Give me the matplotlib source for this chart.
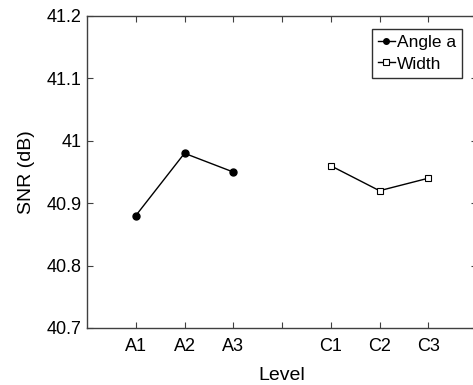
import matplotlib
matplotlib.use("Agg")
import matplotlib.pyplot as plt

plt.rcParams['font.family'] = ['Liberation Sans', 'DejaVu Sans']

# tick labels along the level axis (blank gap between the two factors)
tick_labels = ["A1", "A2", "A3", "", "C1", "C2", "C3"]

# factor A: Angle a
angle_x = [1, 2, 3]
angle_snr = [40.88, 40.98, 40.95]

# factor C: Width
width_x = [5, 6, 7]
width_snr = [40.96, 40.92, 40.94]

fig = plt.figure(figsize=(4.73, 3.85), dpi=100)
ax = fig.add_axes([87 / 473, 1 - 328 / 385, 390 / 473, 312 / 385])

ax.plot(angle_x, angle_snr, color='black', lw=1.0, marker='o', ms=5,
        label='Angle a')
ax.plot(width_x, width_snr, color='black', lw=1.0, marker='s', ms=5,
        markerfacecolor='white', markeredgewidth=0.8, label='Width')

ax.set_xlim(0, 8)
ax.set_ylim(40.7, 41.2)
ax.set_xticks(range(1, 8))
ax.set_xticklabels(tick_labels)
ax.set_yticks([40.7, 40.8, 40.9, 41.0, 41.1, 41.2])
ax.set_yticklabels(["40.7", "40.8", "40.9", "41", "41.1", "41.2"])

ax.tick_params(direction='in', top=True, right=True, length=4,
               labelsize=13, color='#404040')
ax.tick_params(axis='x', pad=7)
ax.tick_params(axis='y', pad=4)
for s in ax.spines.values():
    s.set_color('#404040')
    s.set_linewidth(1.0)

ax.set_xlabel("Level", fontsize=14, labelpad=9)
ax.set_ylabel("SNR (dB)", fontsize=14, labelpad=8)

leg = ax.legend(loc='upper right', bbox_to_anchor=(0.9615, 0.958),
                fontsize=12.5, handlelength=1.0, handletextpad=0.1,
                borderpad=0.35, labelspacing=0.35, fancybox=False,
                framealpha=1, edgecolor='#303030', borderaxespad=0,
                markerscale=0.8)
leg.get_frame().set_linewidth(1.0)

fig.savefig("out.png", dpi=100)
